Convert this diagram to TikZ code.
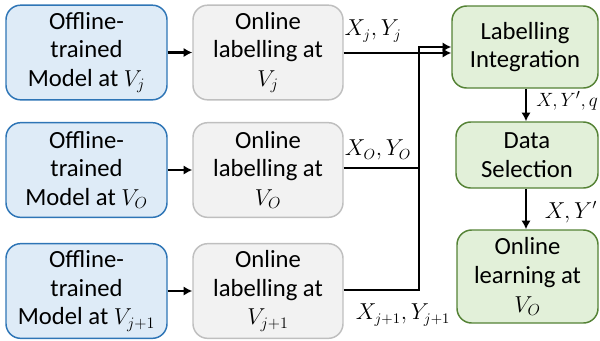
\documentclass[tikz,border=0pt]{standalone}
\usepackage{fontspec}
\setmainfont{Carlito}
\usetikzlibrary{arrows.meta}
\definecolor{bfill}{HTML}{DEEBF7}
\definecolor{bdraw}{HTML}{2E75B6}
\definecolor{gfill}{HTML}{F2F2F2}
\definecolor{gdraw}{HTML}{BFBFBF}
\definecolor{nfill}{HTML}{E2F0D9}
\definecolor{ndraw}{HTML}{548235}
\tikzset{
  box/.style={rounded corners=11pt, line width=1.1pt, align=center, inner sep=0pt,
    font=\fontsize{18.5}{21.5}\selectfont},
  bluebox/.style={box, fill=bfill, draw=bdraw, minimum width=120.75pt, minimum height=71pt},
  graybox/.style={box, fill=gfill, draw=gdraw, minimum width=112.5pt, minimum height=71pt},
  greenbox/.style={box, fill=nfill, draw=ndraw},
  conn/.style={line width=2.2pt, -{Latex[length=6.5pt,width=7pt]}},
  plain/.style={line width=2.2pt},
  lbl/.style={font=\fontsize{16}{19}\selectfont, inner sep=0pt}
}
\begin{document}
\begin{tikzpicture}[x=0.75pt,y=-0.75pt]
\useasboundingbox (0,0) rectangle (600,340);
% blue
\node[bluebox] (b1) at (86.5,52.5) {Offline-\\trained\\Model at $V_j$};
\node[bluebox] (b2) at (86.5,170) {Offline-\\trained\\Model at $V_O$};
\node[bluebox] (b3) at (86.5,291) {Offline-\\trained\\Model at $V_{j+1}$};
% gray
\node[graybox] (g1) at (268,52.5) {Online\\labelling at\\$V_j$};
\node[graybox] (g2) at (268,170) {Online\\labelling at\\$V_O$};
\node[graybox] (g3) at (268,291) {Online\\labelling at\\$V_{j+1}$};
% green
\node[greenbox, minimum width=109.5pt, minimum height=61.5pt] (li) at (525,47) {Labelling\\Integration};
\node[greenbox, minimum width=106.5pt, minimum height=49.5pt] (ds) at (527,155) {Data\\Selection};
\node[greenbox, minimum width=105.75pt, minimum height=69.75pt] (ol) at (527.5,276.5) {Online\\learning at\\$V_O$};
% arrows
\draw[conn] (b1) -- (g1);
\draw[conn] (b2) -- (g2);
\draw[conn] (b3) -- (g3);
\coordinate (m1) at (419,47);
\coordinate (m2) at (419,168);
\coordinate (m3) at (419,290);
\draw[conn] (g1.east |- 0,53) -- (li.west |- 0,53);
\draw[plain] (g2.east |- m2) -- (m2);
\draw[conn] (g3.east |- m3) -- (m3) -- (m1) -- (li.west |- m1);
\draw[conn] (li.south -| 526,0) -- (ds.north -| 526,0);
\draw[conn] (ds.south -| 526,0) -- (ol.north -| 526,0);
% labels
\node[lbl] (l1) at (373,31) {$X_j,Y_j$};
\node[lbl] (l2) at (378,150) {$X_O,Y_O$};
\node[lbl] (l3) at (403,315) {$X_{j+1},Y_{j+1}$};
\node[lbl, font=\fontsize{15}{18}\selectfont, anchor=west] (l4) at (536,101) {$X,Y',q$};
\node[lbl] (l5) at (571,212) {$X,Y'$};
\end{tikzpicture}
\end{document}
